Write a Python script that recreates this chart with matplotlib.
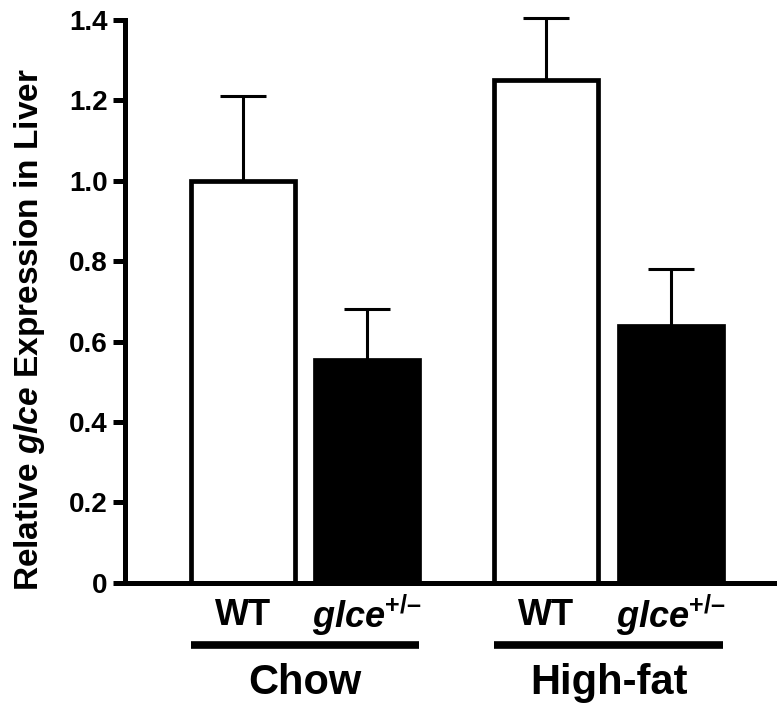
import matplotlib
matplotlib.use("Agg")
import matplotlib.pyplot as plt
import matplotlib.transforms as mtransforms
import numpy as np

plt.rcParams['font.family'] = ['Liberation Sans', 'DejaVu Sans']
plt.rcParams['mathtext.fontset'] = 'custom'
plt.rcParams['mathtext.rm'] = 'Liberation Sans:bold'
plt.rcParams['mathtext.bf'] = 'Liberation Sans:bold'
plt.rcParams['mathtext.it'] = 'Liberation Sans:italic:bold'
plt.rcParams['mathtext.bfit'] = 'Liberation Sans:italic:bold'

# data
groups = ['Chow', 'High-fat']
genotypes = ['WT', r'$\mathbfit{glce}^{\mathbf{+/–}}$']
means = [1.00, 0.555, 1.25, 0.64]
sem = [0.21, 0.125, 0.155, 0.14]
colors = ['white', 'black', 'white', 'black']
yticks = [0, 0.2, 0.4, 0.6, 0.8, 1.0, 1.2, 1.4]
ytick_labels = ['0', '0.2', '0.4', '0.6', '0.8', '1.0', '1.2', '1.4']

x = np.array([0, 1.2, 2.92, 4.12])

fig = plt.figure(figsize=(7.77, 7.10), dpi=100)
ax = fig.add_axes([0.161, 0.179, 0.839, 0.793])

ax.bar(x, means, width=1.0, color=colors, edgecolor='black', linewidth=3.4, zorder=2)
eb = ax.errorbar(x, means, yerr=[np.zeros(len(sem)), sem], fmt='none', ecolor='black',
                 elinewidth=2.2, capsize=16.5, capthick=2.2, zorder=1)
for art in eb.get_children():
    art.set_clip_on(False)

ax.set_xlim(-1.13, 5.14)
ax.set_ylim(0, 1.4)
ax.set_yticks(yticks)
ax.set_yticklabels(ytick_labels, fontsize=20, fontweight='bold')
ax.set_xticks([])
ax.spines['top'].set_visible(False)
ax.spines['right'].set_visible(False)
ax.spines['left'].set_linewidth(3.6)
ax.spines['bottom'].set_linewidth(3.6)
ax.tick_params(axis='y', length=8.6, width=3.6, pad=4)

ax.text(-0.146, 0.449, r'Relative $\mathbfit{glce}$ Expression in Liver', transform=ax.transAxes,
        rotation=90, ha='center', va='center', fontsize=24, fontweight='bold')

trans = mtransforms.blended_transform_factory(ax.transData, ax.transAxes)
for i, xi in enumerate(x):
    ax.text(xi, -0.057, genotypes[i % 2], transform=trans, ha='center', va='center',
            fontsize=26, fontweight='bold', clip_on=False)
for g in range(2):
    x0 = x[2 * g] - 0.5
    x1 = x[2 * g + 1] + 0.5
    ax.plot([x0, x1], [-0.110, -0.110], transform=trans, color='black', lw=5.5,
            solid_capstyle='butt', clip_on=False)
    ax.text((x0 + x1) / 2, -0.178, groups[g], transform=trans, ha='center', va='center',
            fontsize=30, fontweight='bold', clip_on=False)

fig.savefig('out.png', dpi=100)
